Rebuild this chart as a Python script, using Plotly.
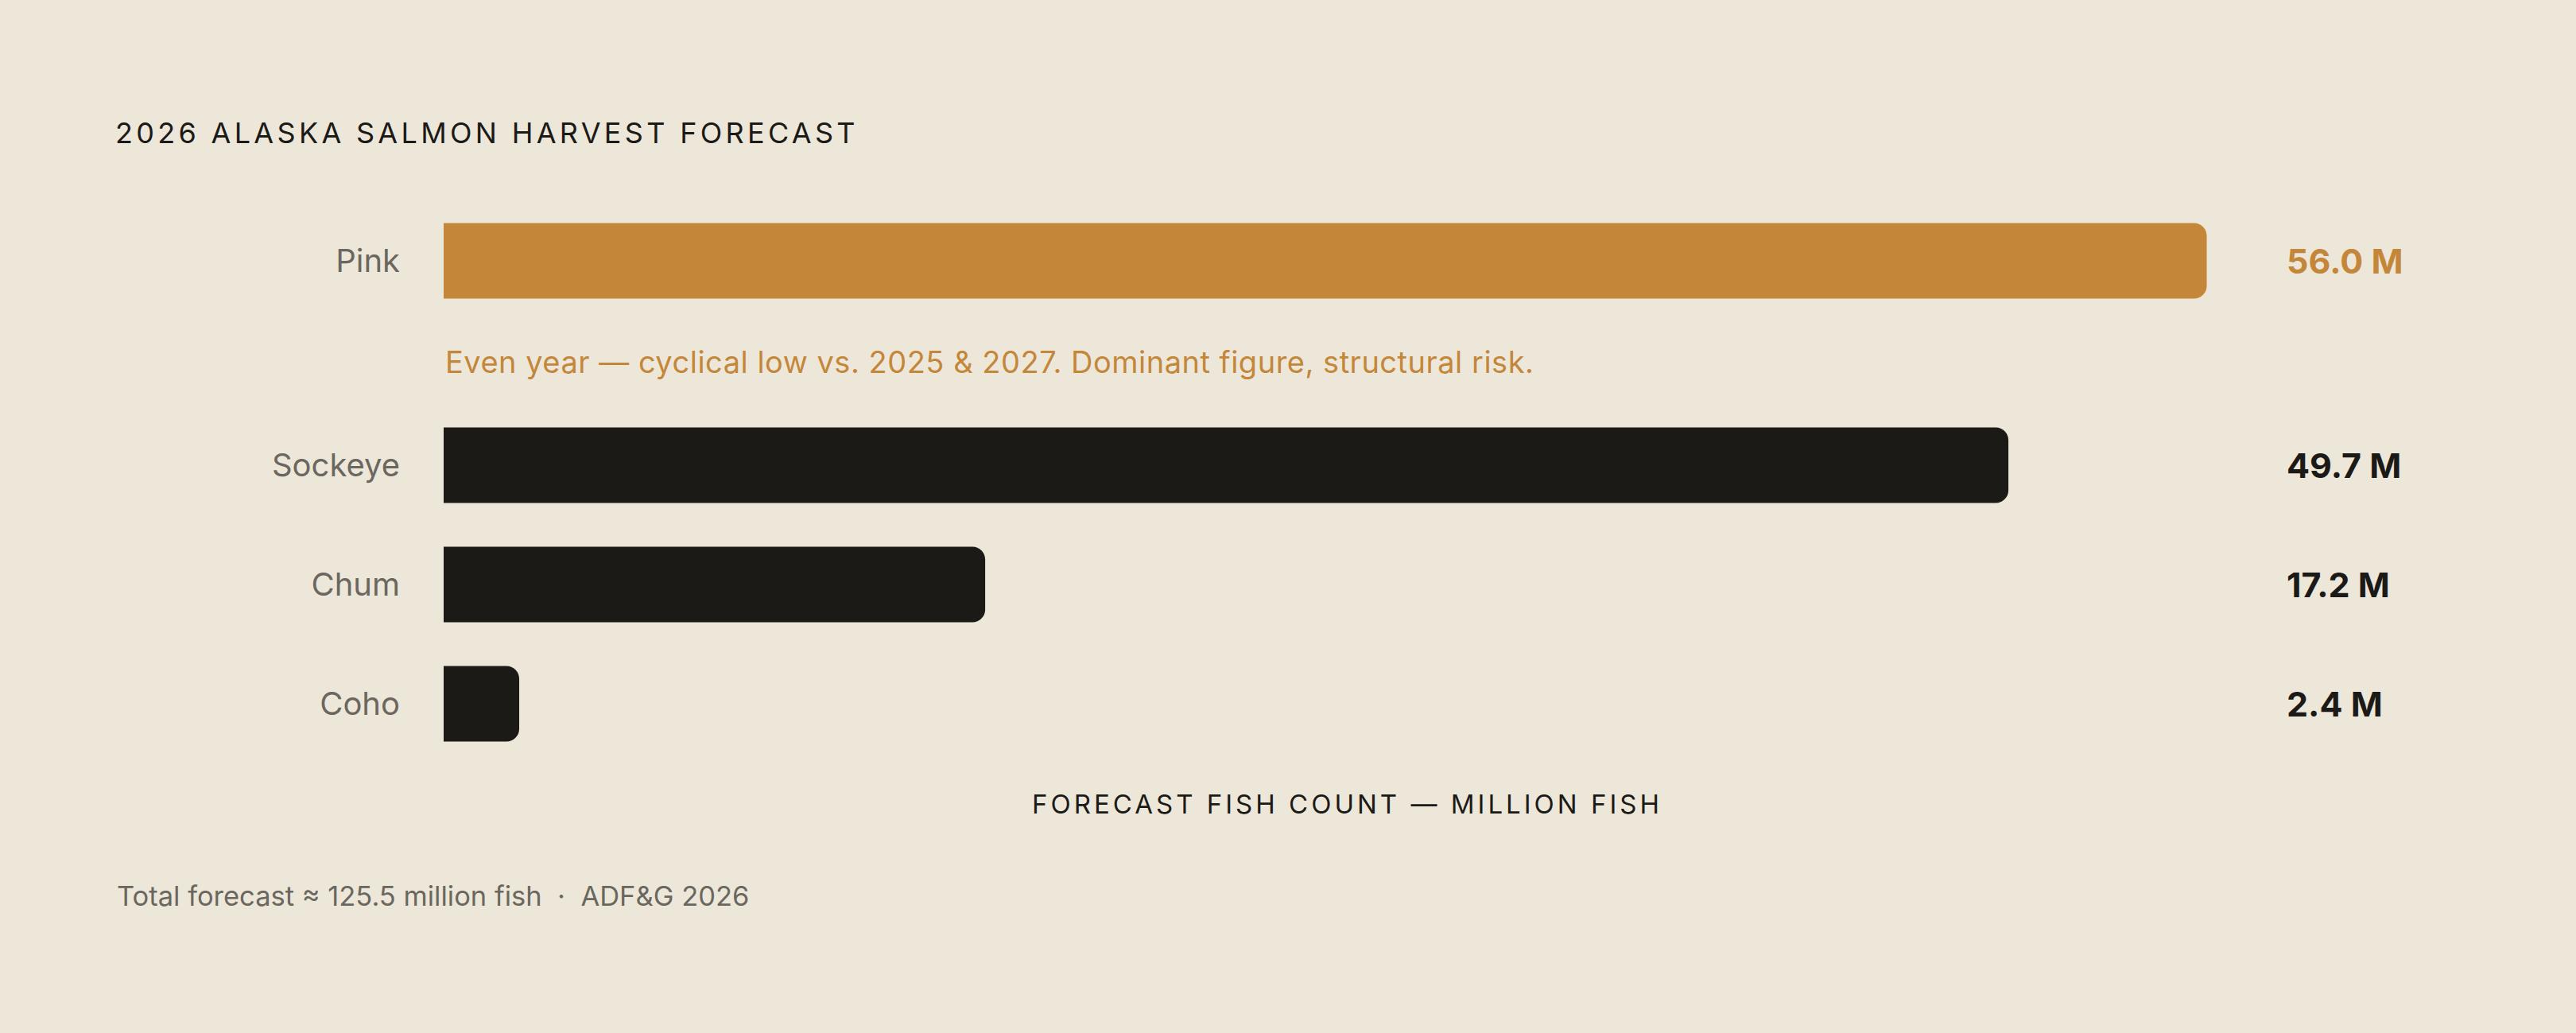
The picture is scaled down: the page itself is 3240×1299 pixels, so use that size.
import plotly.graph_objects as go

# 2026 Alaska salmon harvest forecast, million fish (ADF&G)
species = ["Pink", "Sockeye", "Chum", "Coho"]
forecast = [56.0, 49.7, 17.2, 2.4]
value_labels = ["56.0 M", "49.7 M", "17.2 M", "2.4 M"]
highlight = "Pink"
pink_note = "Even year — cyclical low vs. 2025 & 2027. Dominant figure, structural risk."
title_text = "2026 ALASKA SALMON HARVEST FORECAST"
axis_text = "FORECAST FISH COUNT — MILLION FISH"
footer_text = "Total forecast ≈ 125.5 million fish  ·  ADF&G 2026"

BG = "#EDE7DA"
AMBER = "#C4873A"
INK = "#1C1A16"
MUTED = "#6B675E"
FONT = "Inter, 'DejaVu Sans', sans-serif"

W, H = 3240, 1299
L, R, T, B = 558, 409, 240, 324

# bottom-up row positions, extra room above Sockeye for the note under Pink
n = len(species)
ypos = []
for i, s in enumerate(species):
    row = n - 1 - i
    ypos.append(row + (0.713 if s == highlight else 0))

colors = [AMBER if s == highlight else INK for s in species]

fig = go.Figure()
fig.add_trace(go.Bar(
    x=forecast,
    y=ypos,
    orientation="h",
    width=0.633,
    marker=dict(color=colors, line=dict(width=0)),
    hoverinfo="skip",
))

annotations = []
for s, y, lab, c in zip(species, ypos, value_labels, colors):
    annotations.append(dict(
        x=1, xref="paper", xshift=43, xanchor="left",
        y=y, yref="y", yanchor="middle",
        text=f"<b>{lab}</b>", showarrow=False,
        font=dict(size=43, color=c, family=FONT),
    ))
    if s == highlight:
        annotations.append(dict(
            x=0, xref="paper", xanchor="left",
            y=y - 0.847, yref="y", yanchor="middle",
            text=f'<span style="letter-spacing:0.5px">{pink_note}</span>',
            showarrow=False,
            font=dict(size=38, color=AMBER, family=FONT),
        ))

plot_w = W - L - R
annotations.append(dict(
    x=(145 - L) / plot_w, xref="paper", xanchor="left",
    y=1 - (1126 - T) / (H - T - B), yref="paper", yanchor="middle",
    text=footer_text, showarrow=False,
    font=dict(size=34.5, color=MUTED, family=FONT),
))

fig.update_layout(
    width=W, height=H,
    paper_bgcolor=BG, plot_bgcolor=BG,
    margin=dict(l=L, r=R, t=T, b=B),
    barcornerradius=16,
    showlegend=False,
    font=dict(family=FONT, color=INK),
    title=dict(
        text=f'<span style="letter-spacing:4.3px">{title_text}</span>',
        x=145 / W, xref="container", xanchor="left",
        y=1 - 167 / H, yref="container", yanchor="middle",
        font=dict(size=36, color=INK, family=FONT),
    ),
    xaxis=dict(
        range=[0, 57.4], showgrid=False, zeroline=False,
        showticklabels=False, showline=False, ticks="",
        title=dict(
            text=f'<span style="letter-spacing:4px">{axis_text}</span>',
            standoff=24,
            font=dict(size=33, color=INK, family=FONT),
        ),
        automargin=False,
    ),
    yaxis=dict(
        range=[-0.6, 4.3], showgrid=False, zeroline=False, showline=False,
        tickvals=ypos, ticktext=species, ticks="",
        ticklabelstandoff=54,
        tickfont=dict(size=40, color=MUTED, family=FONT),
        automargin=False,
    ),
    annotations=annotations,
)

fig.write_html(
    "out.html",
    config={"displayModeBar": False},
    post_script="document.body.style.margin='0';",
)
